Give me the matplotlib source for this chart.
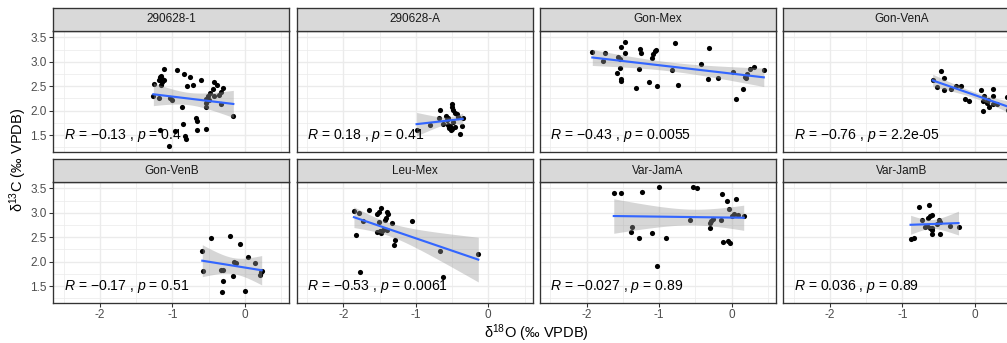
import numpy as np
import matplotlib
matplotlib.use("Agg")
import matplotlib.pyplot as plt
from matplotlib.ticker import FixedLocator, FixedFormatter, NullFormatter

plt.rcParams['font.family'] = ['Liberation Sans', 'DejaVu Sans']
plt.rcParams['mathtext.fontset'] = 'custom'
plt.rcParams['mathtext.rm'] = 'Liberation Sans'
plt.rcParams['mathtext.it'] = 'Liberation Sans:italic'
plt.rcParams['axes.unicode_minus'] = False

# ---------------- data ----------------
panels = ["290628-1", "290628-A", "Gon-Mex", "Gon-VenA",
          "Gon-VenB", "Leu-Mex", "Var-JamA", "Var-JamB"]

x_290628_1 = [-1.255, -1.264, -1.186, -1.191, -1.172, -1.154, -1.140, -1.117, -1.163, -1.145,
              -1.117, -1.030, -1.007, -0.933, -0.869, -0.846, -0.855, -0.800, -0.754, -0.717,
              -0.823, -0.818, -0.602, -0.676, -0.662, -0.662, -1.044, -1.168, -0.961, -0.538,
              -0.543, -0.543, -0.533, -0.506, -0.483, -0.446, -0.432, -0.386, -0.308, -0.336,
              -0.326, -0.359, -0.161, -0.492, -0.423]
y_290628_1 = [2.548, 2.303, 2.262, 2.629, 2.684, 2.711, 2.643, 2.847, 2.520, 2.588,
              2.629, 2.248, 2.221, 2.833, 2.071, 2.752, 1.731, 2.507, 2.684, 2.520,
              1.473, 1.418, 2.629, 1.840, 1.786, 1.595, 1.269, 1.609, 1.582, 1.622,
              2.071, 2.153, 2.235, 2.289, 2.357, 2.439, 2.588, 2.520, 2.466, 2.139,
              2.371, 2.316, 1.895, 2.221, 2.289]

x_290628_A = [-0.989, -0.671, -0.805, -0.680, -0.575, -0.552, -0.538, -0.520, -0.497, -0.501,
              -0.483, -0.455, -0.437, -0.423, -0.529, -0.506, -0.584, -0.391, -0.359, -0.354,
              -0.492, -0.556, -0.621, -0.464]
y_290628_A = [1.595, 2.017, 1.711, 1.847, 1.799, 1.711, 1.643, 1.595, 2.139, 2.071,
              2.017, 1.949, 1.935, 1.867, 1.690, 1.622, 1.895, 1.527, 1.690, 1.840,
              1.759, 1.854, 1.731, 1.663]

x_gon_mex = [-1.921, -1.778, -1.741, -1.569, -1.546, -1.523, -1.468, -1.468, -1.537, -1.574,
             -1.528, -1.523, -1.315, -1.282, -1.259, -1.245, -1.139, -1.093, -1.079, -1.060,
             -1.037, -1.023, -0.824, -0.782, -0.745, -0.426, -0.319, -0.310, -0.194, 0.019,
             0.060, 0.157, 0.213, 0.199, 0.250, 0.310, 0.444, 0.185]
y_gon_mex = [3.201, 3.010, 3.173, 3.092, 3.065, 3.296, 3.412, 3.173, 2.874, 2.765,
             2.656, 2.616, 2.466, 2.861, 3.255, 3.187, 2.588, 3.078, 3.160, 3.214,
             3.241, 2.507, 2.833, 3.391, 2.527, 2.956, 2.643, 3.276, 2.670, 2.793,
             2.228, 2.439, 2.752, 2.670, 2.861, 2.888, 2.827, 2.697]

x_gon_vena = [-0.582, -0.462, -0.425, -0.527, -0.430, -0.323, -0.263, -0.185, -0.134, -0.079,
              0.083, 0.129, 0.106, 0.111, 0.162, 0.194, 0.249, 0.254, 0.245, 0.309,
              0.448, 0.180, 0.460]
y_gon_vena = [2.629, 2.813, 2.677, 2.480, 2.425, 2.452, 2.507, 2.507, 2.235, 2.187,
              2.412, 2.303, 2.187, 1.983, 2.153, 2.071, 2.439, 2.289, 2.139, 2.139,
              2.276, 2.221, 2.020]

x_gon_venb = [-0.589, -0.575, -0.474, -0.207, -0.069, -0.308, -0.326, -0.303, -0.170, -0.156,
              -0.124, -0.322, -0.005, 0.046, 0.138, 0.207, 0.216, 0.230]
y_gon_venb = [2.207, 1.806, 2.486, 2.520, 2.357, 1.833, 1.827, 1.609, 1.697, 1.997,
              1.976, 1.378, 1.398, 2.092, 1.963, 1.731, 1.779, 1.813]

x_leu_mex = [-1.853, -1.789, -1.733, -1.641, -1.531, -1.513, -1.476, -1.411, -1.393, -1.384,
             -1.513, -1.457, -1.531, -1.480, -1.402, -1.324, -1.283, -1.306, -1.825, -1.053,
             -0.662, -0.138, -1.766, -0.621, -1.430, -1.494]
y_leu_mex = [3.031, 2.990, 2.833, 3.065, 2.969, 3.024, 3.105, 2.901, 3.024, 2.969,
             2.820, 2.643, 2.609, 2.582, 2.656, 2.786, 2.446, 2.337, 2.541, 2.827,
             2.221, 2.146, 1.786, 1.677, 2.847, 2.629]

x_var_jama = [-1.625, -1.528, -1.241, -1.000, -0.528, -0.477, -0.134, -0.069, 0.060, -0.032,
              0.037, 0.093, 0.167, -0.579, -0.255, -0.278, -0.292, -0.301, -0.148, -1.380,
              -1.384, -1.282, -1.102, -0.898, -1.028, -0.120, -0.056, -0.028, 0.000]
y_var_jama = [3.405, 3.405, 3.425, 3.520, 3.527, 3.500, 3.391, 3.241, 3.276, 3.071,
              2.983, 2.949, 2.935, 2.847, 2.867, 2.833, 2.793, 2.690, 2.854, 2.711,
              2.616, 2.486, 2.588, 2.486, 1.901, 2.398, 2.425, 2.371, 2.929]

x_var_jamb = [-0.767, -0.637, -0.730, -0.651, -0.624, -0.596, -0.499, -0.485, -0.688, -0.661,
              -0.624, -0.596, -0.587, -0.476, -0.591, -0.346, -0.226, -0.887, -0.845, -0.522]
y_var_jamb = [3.126, 3.167, 2.861, 2.901, 2.929, 2.956, 2.854, 2.806, 2.711, 2.738,
              2.684, 2.643, 2.575, 2.561, 2.697, 2.738, 2.711, 2.466, 2.480, 2.765]

cor_labels = ["R = \u22120.13 , p = 0.4", "R = 0.18 , p = 0.41",
              "R = \u22120.43 , p = 0.0055", "R = \u22120.76 , p = 2.2e-05",
              "R = \u22120.17 , p = 0.51", "R = \u22120.53 , p = 0.0061",
              "R = \u22120.027 , p = 0.89", "R = 0.036 , p = 0.89"]

x_ticks = [-2, -1, 0]
x_tick_labels = ["-2", "-1", "0"]
y_ticks = [1.5, 2.0, 2.5, 3.0, 3.5]
y_tick_labels = ["1.5", "2.0", "2.5", "3.0", "3.5"]

series = [(x_290628_1, y_290628_1), (x_290628_A, y_290628_A), (x_gon_mex, y_gon_mex),
          (x_gon_vena, y_gon_vena), (x_gon_venb, y_gon_venb), (x_leu_mex, y_leu_mex),
          (x_var_jama, y_var_jama), (x_var_jamb, y_var_jamb)]

# ---------------- helpers ----------------
def t_ppf975(df):
    z = 1.959964
    return (z + (z**3 + z) / (4 * df) + (5 * z**5 + 16 * z**3 + 3 * z) / (96 * df**2)
            + (3 * z**7 + 19 * z**5 + 17 * z**3 - 15 * z) / (384 * df**3))

def lm_band(x, y, n_out=80):
    x = np.asarray(x); y = np.asarray(y)
    n = len(x)
    b, a = np.polyfit(x, y, 1)
    xs = np.linspace(x.min(), x.max(), n_out)
    yhat = a + b * xs
    resid = y - (a + b * x)
    s = np.sqrt(np.sum(resid**2) / (n - 2))
    sxx = np.sum((x - x.mean())**2)
    se = s * np.sqrt(1.0 / n + (xs - x.mean())**2 / sxx)
    t = t_ppf975(n - 2)
    return xs, yhat, yhat - t * se, yhat + t * se

def label_fmt(s):
    return s.replace("R =", "$R$ =").replace("p =", "$p$ =")

# ---------------- layout ----------------
W, H, DPI = 1007, 343, 96
fig = plt.figure(figsize=(W / DPI, H / DPI), dpi=DPI)
fig.patch.set_facecolor("white")

col_left0 = 53.3
col_step = 243.3
pw = 236.0
row_top = [30.7, 181.7]
ph = 121.3
strip_h = 22.4

xlim = (-2.644, 0.611)
ylim = (1.153, 3.635)
border = "#333333"
grid_c = "#EBEBEB"

for i, (name, (xv, yv)) in enumerate(zip(panels, series)):
    r, c = divmod(i, 4)
    left = col_left0 + c * col_step
    top = row_top[r]
    ax = fig.add_axes([left / W, 1 - (top + ph) / H, pw / W, ph / H])
    ax.set_xlim(*xlim)
    ax.set_ylim(*ylim)
    ax.set_facecolor("white")
    ax.xaxis.set_major_locator(FixedLocator(x_ticks))
    ax.yaxis.set_major_locator(FixedLocator(y_ticks))
    ax.xaxis.set_minor_locator(FixedLocator([-2.5, -1.5, -0.5, 0.5]))
    ax.yaxis.set_minor_locator(FixedLocator([1.25, 1.75, 2.25, 2.75, 3.25]))
    ax.grid(True, which="major", color=grid_c, lw=1.05, zorder=0)
    ax.grid(True, which="minor", color=grid_c, lw=0.55, zorder=0)
    ax.set_axisbelow(True)
    for sp in ax.spines.values():
        sp.set_color(border)
        sp.set_linewidth(1.0)
        sp.set_zorder(5)
    ax.tick_params(which="minor", length=0)
    ax.tick_params(which="major", length=2.75, width=0.8, color=border,
                   labelcolor="#4D4D4D", labelsize=8.8, pad=2)
    if r == 1:
        ax.xaxis.set_major_formatter(FixedFormatter(x_tick_labels))
    else:
        ax.tick_params(axis="x", which="major", length=0)
        ax.xaxis.set_major_formatter(NullFormatter())
    if c == 0:
        ax.yaxis.set_major_formatter(FixedFormatter(y_tick_labels))
    else:
        ax.tick_params(axis="y", which="major", length=0)
        ax.yaxis.set_major_formatter(NullFormatter())

    ax.scatter(xv, yv, s=15, color="black", linewidths=0, zorder=2)
    xs, yh, lo, hi = lm_band(xv, yv)
    ax.fill_between(xs, lo, hi, color="#999999", alpha=0.4, linewidth=0, zorder=3)
    ax.plot(xs, yh, color="#3366FF", lw=1.6, zorder=4)
    ax.text(-2.5, 1.5, label_fmt(cor_labels[i]), ha="left", va="center",
            fontsize=10.5, color="black", zorder=6)

    sax = fig.add_axes([left / W, 1 - top / H, pw / W, strip_h / H])
    sax.set_facecolor("#D9D9D9")
    sax.set_xticks([]); sax.set_yticks([])
    for sp in sax.spines.values():
        sp.set_color(border)
        sp.set_linewidth(1.0)
    sax.text(0.5, 0.5, name, ha="center", va="center", fontsize=8.8,
             color="#1A1A1A", transform=sax.transAxes)

fig.text(18 / W, 1 - 160 / H, "δ$^{13}$C (‰ VPDB)", rotation=90, ha="center",
         va="center", fontsize=11)
fig.text(536 / W, 1 - 333 / H, "δ$^{18}$O (‰ VPDB)", ha="center", va="center",
         fontsize=11)

fig.savefig("out.png", dpi=DPI)
